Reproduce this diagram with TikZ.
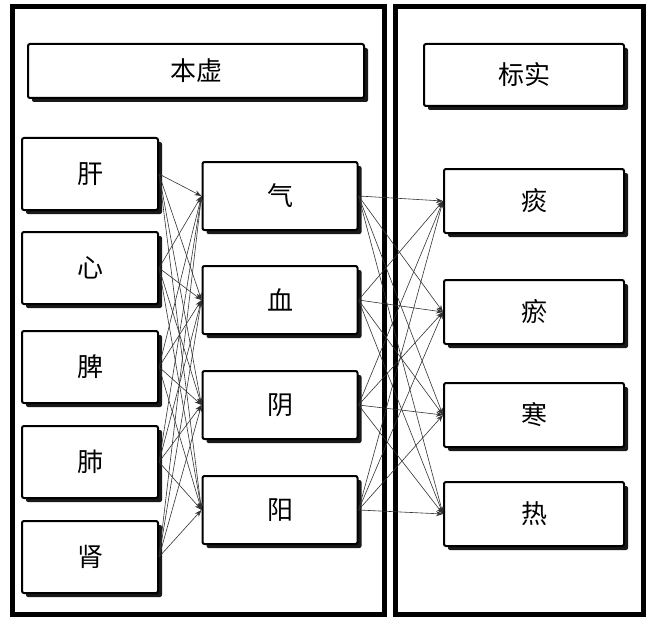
\documentclass[tikz,border=0pt]{standalone}
\usepackage{fontspec}
\newfontfamily\cjk{Noto Sans CJK SC}
\usetikzlibrary{shadows,arrows.meta}
\begin{document}
\begin{tikzpicture}[x=1pt,y=-1pt,
  panel/.style={draw=black,line width=5pt,fill=white},
  bx/.style={draw=black,line width=2pt,fill=white,rounded corners=2pt,
     drop shadow={shadow xshift=4pt,shadow yshift=-4pt,fill=black,opacity=0.9},
     font=\cjk\fontsize{26}{30}\selectfont},
  conn/.style={-{Stealth[length=7pt,width=5pt]},line width=0.6pt,draw=black!80}]
\useasboundingbox (0,0) rectangle (653,623);
\draw[panel] (12,7) rectangle (384,614);
\draw[panel] (395,7) rectangle (643,614);
\node[bx,minimum width=336pt,minimum height=54pt] (t1) at (196,71) {本虚};
\node[bx,minimum width=200pt,minimum height=62pt] (t2) at (524,75) {标实};
\foreach \n/\t/\y in {a1/肝/174,a2/心/268,a3/脾/367,a4/肺/462,a5/肾/557}
  \node[bx,minimum width=136pt,minimum height=72pt] (\n) at (90,\y) {\t};
\foreach \n/\t/\y in {b1/气/196,b2/血/300,b3/阴/405,b4/阳/510}
  \node[bx,minimum width=155pt,minimum height=68pt] (\n) at (280,\y) {\t};
\foreach \n/\t/\y in {c1/痰/201,c2/瘀/312,c3/寒/415,c4/热/514}
  \node[bx,minimum width=180pt,minimum height=64pt] (\n) at (534,\y) {\t};
\foreach \i in {1,...,5}
  \foreach \j in {1,...,4}
    \draw[conn] (a\i.east) -- (b\j.west);
\foreach \i in {1,...,4}
  \foreach \j in {1,...,4}
    \draw[conn] (b\i.east) -- (c\j.west);
\end{tikzpicture}
\end{document}
